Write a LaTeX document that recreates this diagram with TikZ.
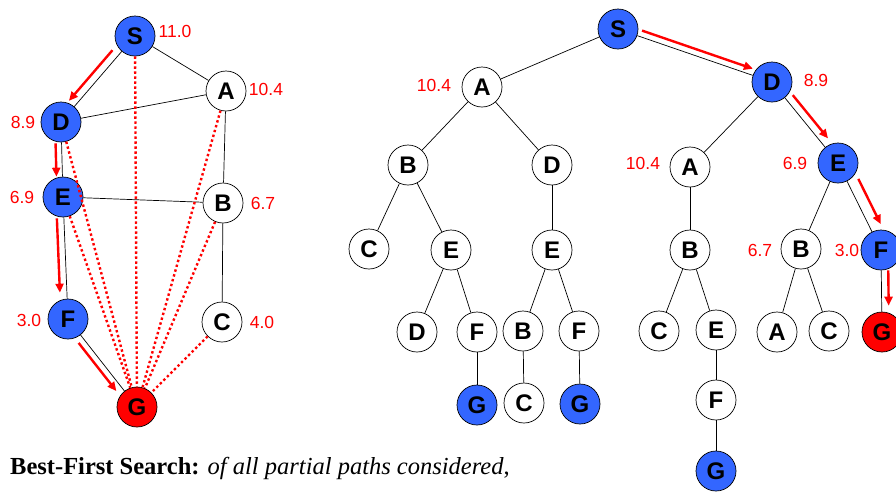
\documentclass[tikz,border=0pt]{standalone}
\usepackage{fontspec}
\setmainfont{Liberation Serif}
\setsansfont{Liberation Sans}
\usepackage{xcolor}
\usepackage{tikz}
\usetikzlibrary{arrows.meta}
\definecolor{nodeblue}{RGB}{51,102,255}

\begin{document}
\begin{tikzpicture}[x=1pt,y=-1pt]
            \tikzset{vtx/.style = {circle, draw, line width=0.7pt, minimum size=40pt, inner sep=0pt, font=\sffamily\bfseries\fontsize{24}{24}\selectfont}}
            \tikzset{seen/.style = {vtx, fill=nodeblue}}
            \tikzset{goal/.style = {vtx, fill=red}}
            \tikzset{hval/.style = {text=red, inner sep=0pt, font=\sffamily\fontsize{17.5}{17.5}\selectfont}}
            \tikzset{c/.style = {line width=0.7pt}}
            \tikzset{dots/.style = {red, line width=2.4pt, dash pattern=on 2.4pt off 2.6pt}}
            \tikzset{best/.style = {red, line width=2.4pt, -{Triangle[length=9pt,width=8pt]}}}

            \useasboundingbox (0,0) rectangle (896,491);

            % graph
            \node[seen] (gS) at (135,36) {S};
            \node[vtx] (gA) at (226,91) {A};
            \node[seen] (gD) at (61,122) {D};
            \node[seen] (gE) at (63,197) {E};
            \node[vtx] (gB) at (223,203) {B};
            \node[seen] (gF) at (68,319) {F};
            \node[vtx] (gC) at (222,322) {C};
            \node[goal] (gG) at (137,407) {G};

            \node[hval] (hS) at (175,31) {11.0};
            \node[hval] (hA) at (266,89) {10.4};
            \node[hval] (hD) at (23,122) {8.9};
            \node[hval] (hE) at (22,197) {6.9};
            \node[hval] (hB) at (263,203) {6.7};
            \node[hval] (hF) at (29,320) {3.0};
            \node[hval] (hC) at (262,322) {4.0};

            \draw[c] (gS) -- (gA);
            \draw[c] (gS) -- (gD);
            \draw[c] (gA) -- (gD);
            \draw[c] (gA) -- (gB);
            \draw[c] (gD) -- (gE);
            \draw[c] (gE) -- (gB);
            \draw[c] (gB) -- (gC);
            \draw[c] (gE) -- (gF);
            \draw[c] (gF) -- (gG);

            \draw[dots] (gS) -- (gG);
            \draw[dots] (gA) -- (gG);
            \draw[dots] (gD) -- (gG);
            \draw[dots] (gE) -- (gG);
            \draw[dots] (gB) -- (gG);
            \draw[dots] (gC) -- (gG);

            \draw[best, shorten <=5pt, shorten >=1pt, transform canvas={xshift=-6pt,yshift=5pt}] (gS) -- (gD);
            \draw[best, shorten <=1pt, transform canvas={xshift=-6pt}] (gD) -- (gE);
            \draw[best, shorten <=1pt, shorten >=6pt, transform canvas={xshift=-7pt}] (gE) -- (gF);
            \draw[best, shorten <=5pt, shorten >=5pt, transform canvas={xshift=-5pt,yshift=-4pt}] (gF) -- (gG);

            % search tree
            \node[seen] (tS) at (618,29) {S};
            \node[vtx] (tA) at (482,87) {A};
            \node[seen] (tD) at (772,82) {D};
            \node[vtx] (tAB) at (408,165) {B};
            \node[vtx] (tAD) at (552,165) {D};
            \node[vtx] (tDA) at (690,167) {A};
            \node[seen] (tDE) at (838,163) {E};
            \node[vtx] (tABC) at (369,249) {C};
            \node[vtx] (tABE) at (451,250) {E};
            \node[vtx] (tADE) at (552,250) {E};
            \node[vtx] (tDAB) at (690,250) {B};
            \node[vtx] (tDEB) at (801,249) {B};
            \node[seen] (tDEF) at (881,250) {F};
            \node[vtx] (tABED) at (417,332) {D};
            \node[vtx] (tABEF) at (477,332) {F};
            \node[vtx] (tADEB) at (523,331) {B};
            \node[vtx] (tADEF) at (579,331) {F};
            \node[vtx] (tDABC) at (659,331) {C};
            \node[vtx] (tDABE) at (716,330) {E};
            \node[vtx] (tDEBA) at (777,332) {A};
            \node[vtx] (tDEBC) at (829,331) {C};
            \node[goal] (tDEFG) at (882,332) {G};
            \node[seen] (tABEFG) at (477,405) {G};
            \node[vtx] (tADEBC) at (524,403) {C};
            \node[seen] (tADEFG) at (580,404) {G};
            \node[vtx] (tDABEF) at (716,400) {F};
            \node[seen] (tDABEFG) at (716,471) {G};

            \node[hval] (htA) at (434,85) {10.4};
            \node[hval] (htD) at (816,80) {8.9};
            \node[hval] (htDA) at (643,163) {10.4};
            \node[hval] (htDE) at (795,163) {6.9};
            \node[hval] (htDEB) at (760,250) {6.7};
            \node[hval] (htDEF) at (847,250) {3.0};

            \draw[c] (tS) -- (tA);
            \draw[c] (tS) -- (tD);
            \draw[c] (tA) -- (tAB);
            \draw[c] (tA) -- (tAD);
            \draw[c] (tAB) -- (tABC);
            \draw[c] (tAB) -- (tABE);
            \draw[c] (tABE) -- (tABED);
            \draw[c] (tABE) -- (tABEF);
            \draw[c] (tABEF) -- (tABEFG);
            \draw[c] (tAD) -- (tADE);
            \draw[c] (tADE) -- (tADEB);
            \draw[c] (tADE) -- (tADEF);
            \draw[c] (tADEB) -- (tADEBC);
            \draw[c] (tADEF) -- (tADEFG);
            \draw[c] (tD) -- (tDA);
            \draw[c] (tD) -- (tDE);
            \draw[c] (tDA) -- (tDAB);
            \draw[c] (tDAB) -- (tDABC);
            \draw[c] (tDAB) -- (tDABE);
            \draw[c] (tDABE) -- (tDABEF);
            \draw[c] (tDABEF) -- (tDABEFG);
            \draw[c] (tDE) -- (tDEB);
            \draw[c] (tDE) -- (tDEF);
            \draw[c] (tDEB) -- (tDEBA);
            \draw[c] (tDEB) -- (tDEBC);
            \draw[c] (tDEF) -- (tDEFG);

            \draw[best, shorten <=3pt, shorten >=2pt, transform canvas={xshift=2pt,yshift=6pt}] (tS) -- (tD);
            \draw[best, shorten <=3pt, shorten >=5pt, transform canvas={xshift=6pt,yshift=5pt}] (tD) -- (tDE);
            \draw[best, shorten <=3pt, shorten >=3pt, transform canvas={xshift=10pt,yshift=5pt}] (tDE) -- (tDEF);
            \draw[best, shorten >=6pt, transform canvas={xshift=7pt}] (tDEF) -- (tDEFG);

            \node[anchor=base west, inner sep=0pt, font=\fontsize{24.5}{24.5}\selectfont] (caption) at (10,474) {\textbf{Best-First Search:} \textit{of all partial paths considered},};

\end{tikzpicture}
\end{document}
